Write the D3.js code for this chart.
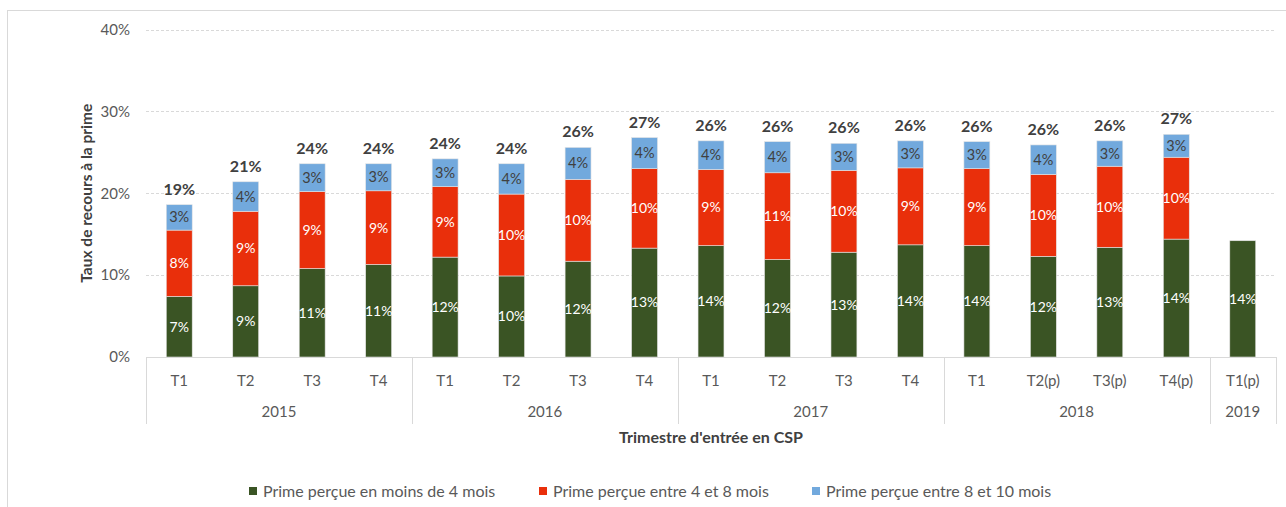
<!DOCTYPE html>
<html>
<head>
<meta charset="utf-8">
<script src="https://cdn.jsdelivr.net/npm/d3@7"></script>
<style>
  body { margin: 0; background: #fff; }
  svg { display: block; font-family: Lato, "Noto Sans", sans-serif; }
</style>
</head>
<body>
<div class="graph"></div>
<script>
// quarters and years (x axis, two levels)
var quarters = ["T1", "T2", "T3", "T4", "T1", "T2", "T3", "T4", "T1", "T2", "T3", "T4", "T1", "T2(p)", "T3(p)", "T4(p)", "T1(p)"];
var years = ["2015", "2015", "2015", "2015", "2016", "2016", "2016", "2016", "2017", "2017", "2017", "2017", "2018", "2018", "2018", "2018", "2019"];

// series values, in %
var moins4 = [7.4, 8.7, 10.8, 11.3, 12.2, 9.9, 11.7, 13.3, 13.6, 11.9, 12.8, 13.7, 13.6, 12.3, 13.4, 14.4, 14.2];
var entre4et8 = [8.1, 9.1, 9.4, 9.0, 8.6, 10.0, 10.0, 9.7, 9.3, 10.6, 10.0, 9.4, 9.4, 10.0, 9.9, 10.0, 0];
var entre8et10 = [3.1, 3.6, 3.4, 3.3, 3.4, 3.7, 3.9, 3.8, 3.5, 3.8, 3.3, 3.3, 3.3, 3.6, 3.1, 2.8, 0];

var yTicks = [0, 10, 20, 30, 40];
var seriesNames = ["Prime perçue en moins de 4 mois", "Prime perçue entre 4 et 8 mois", "Prime perçue entre 8 et 10 mois"];
var colors = ["#3a5424", "#e92f0b", "#72a9dd"];

var width = 1286, height = 507;
var plotLeft = 146, plotRight = 1276, plotTop = 29.5, plotBottom = 357;

var keys = quarters.map(function (q, i) { return years[i] + "-" + q; });
var rows = keys.map(function (k, i) {
    return { key: k, a: moins4[i], b: entre4et8[i], c: entre8et10[i] };
});

var svg = d3.select(".graph").append("svg")
    .attr("width", width)
    .attr("height", height);

// outer frame (cut at the right and bottom)
svg.append("rect")
    .attr("x", 7.5).attr("y", 10.5)
    .attr("width", 1300).attr("height", 520)
    .attr("fill", "none").attr("stroke", "#d9d9d9");

var x = d3.scaleBand().domain(keys).range([plotLeft, plotRight]).paddingInner(0.61).paddingOuter(0.305);
var y = d3.scaleLinear().domain([0, 40]).range([plotBottom, plotTop]);

// grid
svg.append("g").selectAll("line")
    .data(yTicks.filter(function (d) { return d > 0; }))
    .join("line")
    .attr("x1", plotLeft).attr("x2", plotRight)
    .attr("y1", function (d) { return Math.round(y(d)) + 0.5; })
    .attr("y2", function (d) { return Math.round(y(d)) + 0.5; })
    .attr("stroke", "#d9d9d9")
    .attr("stroke-dasharray", "3,2");

// y axis labels
svg.append("g").selectAll("text")
    .data(yTicks)
    .join("text")
    .attr("x", 130)
    .attr("y", function (d) { return y(d); })
    .attr("dy", "0.35em")
    .attr("text-anchor", "end")
    .attr("fill", "#595959")
    .attr("font-size", 15)
    .text(function (d) { return d + "%"; });

svg.append("text")
    .attr("transform", "translate(92," + y(20) + ") rotate(-90)")
    .attr("text-anchor", "middle")
    .attr("font-size", 15.5)
    .attr("font-weight", "bold")
    .attr("fill", "#404040")
    .text("Taux de recours à la prime");

// stacked bars
var stack = d3.stack().keys(["a", "b", "c"]);
var layers = stack(rows);

var bars = svg.append("g");
layers.forEach(function (layer, li) {
    bars.append("g").selectAll("rect")
        .data(layer.filter(function (d) { return d[1] - d[0] > 0; }))
        .join("rect")
        .attr("x", function (d) { return x(d.data.key); })
        .attr("width", x.bandwidth())
        .attr("y", function (d) { return y(d[1]); })
        .attr("height", function (d) { return y(d[0]) - y(d[1]); })
        .attr("fill", colors[li])
        .attr("stroke", "#e4e4e4")
        .attr("stroke-width", 0.6);

    bars.append("g").selectAll("text")
        .data(layer.filter(function (d) { return d[1] - d[0] > 0; }))
        .join("text")
        .attr("x", function (d) { return x(d.data.key) + x.bandwidth() / 2; })
        .attr("y", function (d) { return (y(d[0]) + y(d[1])) / 2; })
        .attr("dy", "0.35em")
        .attr("text-anchor", "middle")
        .attr("font-size", li === 2 ? 14.5 : 14)
        .attr("fill", li === 2 ? "#404040" : "#ffffff")
        .text(function (d) { return Math.round(d[1] - d[0]) + "%"; });
});

// totals
svg.append("g").selectAll("text")
    .data(rows.filter(function (d) { return d.b + d.c > 0; }))
    .join("text")
    .attr("x", function (d) { return x(d.key) + x.bandwidth() / 2; })
    .attr("y", function (d) { return y(d.a + d.b + d.c) - 10; })
    .attr("text-anchor", "middle")
    .attr("font-size", 16)
    .attr("font-weight", "bold")
    .attr("fill", "#404040")
    .text(function (d) { return Math.round(d.a + d.b + d.c) + "%"; });

// x axis: baseline, separators, labels
var step = x.step(), gap = (step - x.bandwidth()) / 2;
svg.append("line")
    .attr("x1", plotLeft).attr("x2", plotRight)
    .attr("y1", plotBottom + 0.5).attr("y2", plotBottom + 0.5)
    .attr("stroke", "#d9d9d9");

var groups = [];
years.forEach(function (yr, i) {
    if (i === 0 || years[i - 1] !== yr) groups.push({ year: yr, first: keys[i], n: 0 });
    groups[groups.length - 1].n += 1;
});
var seps = groups.map(function (g) { return x(g.first) - gap; }).concat([x(keys[keys.length - 1]) + x.bandwidth() + gap]);

svg.append("g").selectAll("line")
    .data(seps)
    .join("line")
    .attr("x1", function (d) { return Math.round(d) + 0.5; })
    .attr("x2", function (d) { return Math.round(d) + 0.5; })
    .attr("y1", plotBottom).attr("y2", 424)
    .attr("stroke", "#d9d9d9");

svg.append("g").selectAll("text")
    .data(rows)
    .join("text")
    .attr("x", function (d) { return x(d.key) + x.bandwidth() / 2; })
    .attr("y", 381)
    .attr("dy", "0.35em")
    .attr("text-anchor", "middle")
    .attr("font-size", 15)
    .attr("fill", "#595959")
    .text(function (d, i) { return quarters[i]; });

svg.append("g").selectAll("text")
    .data(groups)
    .join("text")
    .attr("x", function (g) { return x(g.first) - gap + g.n * step / 2; })
    .attr("y", 412)
    .attr("dy", "0.35em")
    .attr("text-anchor", "middle")
    .attr("font-size", 15)
    .attr("fill", "#595959")
    .text(function (g) { return g.year; });

svg.append("text")
    .attr("x", (plotLeft + plotRight) / 2)
    .attr("y", 437)
    .attr("dy", "0.35em")
    .attr("text-anchor", "middle")
    .attr("font-size", 16)
    .attr("font-weight", "bold")
    .attr("fill", "#404040")
    .text("Trimestre d'entrée en CSP");

// legend
var legendX = [249, 539, 812];
var legend = svg.append("g").selectAll("g")
    .data(seriesNames)
    .join("g")
    .attr("transform", function (d, i) { return "translate(" + legendX[i] + ",491)"; });
legend.append("rect")
    .attr("x", 0).attr("y", -4)
    .attr("width", 8).attr("height", 8)
    .attr("fill", function (d, i) { return colors[i]; });
legend.append("text")
    .attr("x", 14)
    .attr("dy", "0.35em")
    .attr("font-size", 16)
    .attr("fill", "#595959")
    .text(function (d) { return d; });
</script>
</body>
</html>
